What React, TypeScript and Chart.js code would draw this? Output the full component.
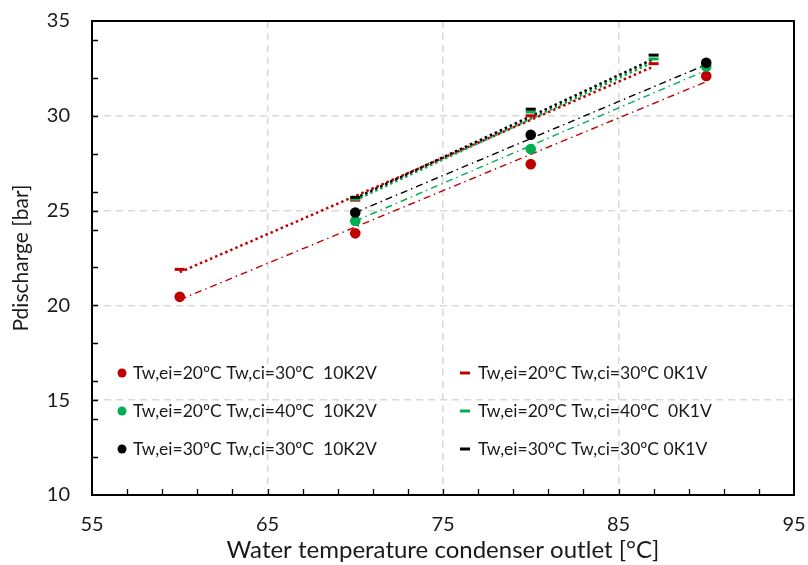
import React, { useEffect, useRef } from "react";
import { Chart, registerables } from "chart.js";

Chart.register(...registerables);

// ---- data ----
const red10X = [60, 70, 80, 90];
const red10Y = [20.45, 23.8, 27.45, 32.1];
const green10X = [70, 80, 90];
const green10Y = [24.45, 28.25, 32.6];
const black10X = [70, 80, 90];
const black10Y = [24.9, 29.0, 32.8];

const red0X = [60, 70, 80, 87];
const red0Y = [21.9, 25.55, 30.0, 32.75];
const green0X = [70, 80, 87];
const green0Y = [25.6, 30.2, 33.0];
const black0X = [70, 80, 87];
const black0Y = [25.7, 30.35, 33.2];

// trend line end points
const trendRed10X = [60, 90];
const trendRed10Y = [20.3, 31.8];
const trendGreen10X = [70, 90];
const trendGreen10Y = [24.45, 32.4];
const trendBlack10X = [70, 90];
const trendBlack10Y = [24.9, 32.7];
const trendRed0X = [60, 87];
const trendRed0Y = [21.75, 32.6];
const trendGreen0X = [70, 87];
const trendGreen0Y = [25.55, 32.85];
const trendBlack0X = [70, 87];
const trendBlack0Y = [25.65, 33.0];

const labels10 = [
  "Tw,ei=20ºC Tw,ci=30ºC  10K2V",
  "Tw,ei=20ºC Tw,ci=40ºC  10K2V",
  "Tw,ei=30ºC Tw,ci=30ºC  10K2V",
];
const labels0 = [
  "Tw,ei=20ºC Tw,ci=30ºC 0K1V",
  "Tw,ei=20ºC Tw,ci=40ºC  0K1V",
  "Tw,ei=30ºC Tw,ci=30ºC 0K1V",
];

const xMajorGrid = [65, 75, 85];
const yMajorGrid = [15, 20, 25, 30];
const X_MIN = 55, X_MAX = 95, Y_MIN = 10, Y_MAX = 35;

const RED = "#C00000";
const GREEN = "#00B050";
const BLACK = "#000000";
const FONT = "Lato";

const pts = (xs: number[], ys: number[]) => xs.map((x, i) => ({ x, y: ys[i] }));

const frameAndLegend = {
  id: "frameAndLegend",
  afterDraw(chart: any) {
    const { ctx, chartArea: a, scales } = chart;
    const xs = scales.x, ys = scales.y;
    ctx.save();
    // minor/major inward ticks
    ctx.strokeStyle = "#000";
    ctx.lineWidth = 1.3;
    ctx.beginPath();
    for (let v = X_MIN + 2; v < X_MAX; v += 2) {
      const px = Math.round(xs.getPixelForValue(v)) + 0.5;
      ctx.moveTo(px, a.bottom);
      ctx.lineTo(px, a.bottom - 6);
    }
    for (let v = X_MIN + 10; v < X_MAX; v += 10) {
      const px = Math.round(xs.getPixelForValue(v)) + 0.5;
      ctx.moveTo(px, a.bottom);
      ctx.lineTo(px, a.bottom - 6);
    }
    for (let v = Y_MIN + 2; v < Y_MAX; v += 2) {
      const py = Math.round(ys.getPixelForValue(v)) + 0.5;
      ctx.moveTo(a.left, py);
      ctx.lineTo(a.left + 6, py);
    }
    for (let v = Y_MIN + 5; v < Y_MAX; v += 5) {
      const py = Math.round(ys.getPixelForValue(v)) + 0.5;
      ctx.moveTo(a.left, py);
      ctx.lineTo(a.left + 6, py);
    }
    ctx.stroke();
    // frame
    ctx.lineWidth = 2;
    ctx.strokeRect(a.left, a.top, a.right - a.left, a.bottom - a.top);

    // legend
    const colors = [RED, GREEN, BLACK];
    ctx.font = `17.5px ${FONT}`;
    ctx.textBaseline = "middle";
    ctx.textAlign = "left";
    for (let i = 0; i < 3; i++) {
      const y = a.bottom - 122 + i * 38;
      const c1 = a.left + 30;
      ctx.fillStyle = colors[i];
      ctx.beginPath();
      ctx.arc(c1, y, 4.5, 0, Math.PI * 2);
      ctx.fill();
      ctx.fillStyle = "#1a1a1a";
      ctx.fillText(labels10[i], c1 + 11, y);
      const c2 = a.left + 373;
      ctx.strokeStyle = colors[i];
      ctx.lineWidth = 3;
      ctx.beginPath();
      ctx.moveTo(c2 - 5, y);
      ctx.lineTo(c2 + 5, y);
      ctx.stroke();
      ctx.fillStyle = "#1a1a1a";
      ctx.fillText(labels0[i], c2 + 13, y);
    }
    ctx.restore();
  },
};

export default function App() {
  const ref = useRef<HTMLCanvasElement | null>(null);

  useEffect(() => {
    if (!ref.current) return;
    const marker10 = (label: string, xs: number[], ys: number[], color: string) => ({
      label,
      data: pts(xs, ys),
      showLine: false,
      pointStyle: "circle",
      pointRadius: 5.3,
      pointBackgroundColor: color,
      pointBorderColor: color,
      pointBorderWidth: 0,
    });
    const marker0 = (label: string, xs: number[], ys: number[], color: string) => ({
      label,
      data: pts(xs, ys),
      showLine: false,
      pointStyle: "line",
      pointRadius: 5,
      pointBorderColor: color,
      pointBackgroundColor: color,
      pointBorderWidth: 3,
    });
    const dotted = (xs: number[], ys: number[], color: string) => ({
      label: "",
      data: pts(xs, ys),
      showLine: true,
      pointRadius: 0,
      borderColor: color,
      borderWidth: 2.5,
      borderDash: [2.5, 3],
      fill: false,
    });
    const dashDot = (xs: number[], ys: number[], color: string) => ({
      label: "",
      data: pts(xs, ys),
      showLine: true,
      pointRadius: 0,
      borderColor: color,
      borderWidth: 1.4,
      borderDash: [7, 4, 1.5, 4],
      fill: false,
    });

    const chart = new Chart(ref.current, {
      type: "scatter",
      data: {
        datasets: [
          marker10(labels10[2], black10X, black10Y, BLACK),
          marker0(labels0[2], black0X, black0Y, BLACK),
          marker10(labels10[1], green10X, green10Y, GREEN),
          marker0(labels0[1], green0X, green0Y, GREEN),
          marker10(labels10[0], red10X, red10Y, RED),
          marker0(labels0[0], red0X, red0Y, RED),
          dotted(trendBlack0X, trendBlack0Y, BLACK),
          dotted(trendGreen0X, trendGreen0Y, GREEN),
          dotted(trendRed0X, trendRed0Y, RED),
          dashDot(trendBlack10X, trendBlack10Y, BLACK),
          dashDot(trendGreen10X, trendGreen10Y, GREEN),
          dashDot(trendRed10X, trendRed10Y, RED),
        ] as any,
      },
      options: {
        animation: false,
        responsive: true,
        maintainAspectRatio: false,
        layout: { padding: { left: 0, top: 21, right: 14, bottom: 0 } },
        plugins: {
          legend: { display: false },
          tooltip: { enabled: false },
        },
        scales: {
          x: {
            type: "linear",
            min: X_MIN,
            max: X_MAX,
            ticks: {
              stepSize: 10,
              font: { family: FONT, size: 20 },
              color: "#1a1a1a",
              padding: 18,
            },
            grid: {
              drawTicks: false,
              lineWidth: 1.5,
              color: (c: any) =>
                c.tick && xMajorGrid.includes(c.tick.value) ? "#d9d9d9" : "rgba(0,0,0,0)",
            },
            border: { display: false, dash: [7, 5] },
            title: {
              display: true,
              text: "Water temperature condenser outlet [°C]",
              font: { family: FONT, size: 24 },
              color: "#1a1a1a",
              padding: { top: 0, bottom: 0 },
            },
            afterFit: (s: any) => {
              s.height = 70;
              s.paddingLeft = 0;
              s.paddingRight = 0;
            },
          },
          y: {
            type: "linear",
            min: Y_MIN,
            max: Y_MAX,
            ticks: {
              stepSize: 5,
              font: { family: FONT, size: 20 },
              color: "#1a1a1a",
              padding: 22,
            },
            grid: {
              drawTicks: false,
              lineWidth: 1.5,
              color: (c: any) =>
                c.tick && yMajorGrid.includes(c.tick.value) ? "#d9d9d9" : "rgba(0,0,0,0)",
            },
            border: { display: false, dash: [7, 5] },
            title: {
              display: true,
              text: "Pdischarge [bar]",
              font: { family: FONT, size: 21 },
              color: "#1a1a1a",
              padding: { top: 9, bottom: 0 },
            },
            afterFit: (s: any) => {
              s.width = 92;
              s.paddingTop = 0;
              s.paddingBottom = 0;
            },
          },
        },
      } as any,
      plugins: [frameAndLegend],
    });
    return () => chart.destroy();
  }, []);

  return (
    <div style={{ position: "fixed", left: 0, top: 0, width: 808, height: 565, background: "#fff" }}>
      <canvas ref={ref} />
    </div>
  );
}
